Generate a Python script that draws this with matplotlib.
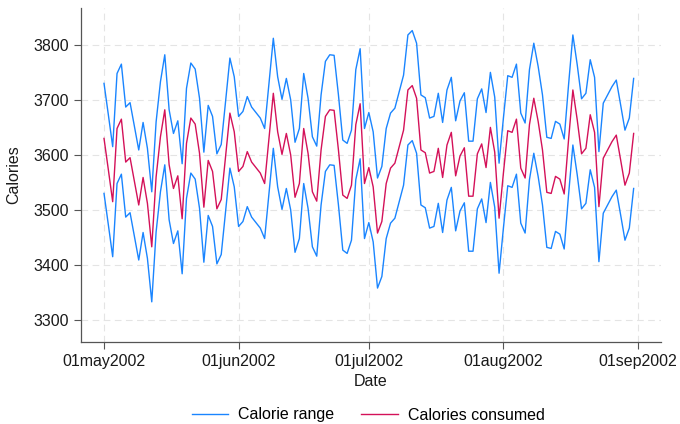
import matplotlib
matplotlib.use("Agg")
import matplotlib.pyplot as plt
import matplotlib.dates as mdates
import pandas as pd

# daily values, 01may2002 .. 31aug2002
start_date = "2002-05-01"

consumed = [
    3630, 3573, 3515, 3648, 3665, 3587, 3595, 3552, 3509, 3559,
    3512, 3433, 3560, 3633, 3682, 3582, 3539, 3562, 3484, 3621,
    3667, 3656, 3603, 3505, 3590, 3570, 3502, 3519, 3597, 3676,
    3642, 3570, 3579, 3606, 3587, 3577, 3567, 3548, 3630, 3712,
    3642, 3601, 3639, 3600, 3523, 3548, 3648, 3603, 3533, 3516,
    3609, 3670, 3682, 3681, 3609, 3527, 3521, 3545, 3655, 3693,
    3548, 3577, 3542, 3458, 3479, 3548, 3576, 3585, 3615, 3645,
    3718, 3726, 3703, 3609, 3604, 3567, 3570, 3612, 3559, 3618,
    3641, 3562, 3598, 3613, 3525, 3525, 3602, 3620, 3577, 3650,
    3605, 3485, 3567, 3644, 3641, 3665, 3576, 3558, 3655, 3703,
    3661, 3609, 3532, 3530, 3561, 3556, 3529, 3627, 3718, 3664,
    3602, 3612, 3673, 3641, 3506, 3594, 3609, 3624, 3636, 3591,
    3545, 3567, 3639,
]

range_upper = [
    3730, 3673, 3615, 3748, 3765, 3687, 3695, 3652, 3609, 3659,
    3612, 3533, 3660, 3733, 3782, 3682, 3639, 3662, 3584, 3721,
    3767, 3756, 3703, 3605, 3690, 3670, 3602, 3619, 3697, 3776,
    3742, 3670, 3679, 3706, 3687, 3677, 3667, 3648, 3730, 3812,
    3742, 3701, 3739, 3700, 3623, 3648, 3748, 3703, 3633, 3616,
    3709, 3770, 3782, 3781, 3709, 3627, 3621, 3645, 3755, 3793,
    3648, 3677, 3642, 3558, 3579, 3648, 3676, 3685, 3715, 3745,
    3818, 3826, 3803, 3709, 3704, 3667, 3670, 3712, 3659, 3718,
    3741, 3662, 3698, 3713, 3625, 3625, 3702, 3720, 3677, 3750,
    3705, 3585, 3667, 3744, 3741, 3765, 3676, 3658, 3755, 3803,
    3761, 3709, 3632, 3630, 3661, 3656, 3629, 3727, 3818, 3764,
    3702, 3712, 3773, 3741, 3606, 3694, 3709, 3724, 3736, 3691,
    3645, 3667, 3739,
]

range_lower = [
    3530, 3473, 3415, 3548, 3565, 3487, 3495, 3452, 3409, 3459,
    3412, 3333, 3460, 3533, 3582, 3482, 3439, 3462, 3384, 3521,
    3567, 3556, 3503, 3405, 3490, 3470, 3402, 3419, 3497, 3576,
    3542, 3470, 3479, 3506, 3487, 3477, 3467, 3448, 3530, 3612,
    3542, 3501, 3539, 3500, 3423, 3448, 3548, 3503, 3433, 3416,
    3509, 3570, 3582, 3581, 3509, 3427, 3421, 3445, 3555, 3593,
    3448, 3477, 3442, 3358, 3379, 3448, 3476, 3485, 3515, 3545,
    3618, 3626, 3603, 3509, 3504, 3467, 3470, 3512, 3459, 3518,
    3541, 3462, 3498, 3513, 3425, 3425, 3502, 3520, 3477, 3550,
    3505, 3385, 3467, 3544, 3541, 3565, 3476, 3458, 3555, 3603,
    3561, 3509, 3432, 3430, 3461, 3456, 3429, 3527, 3618, 3564,
    3502, 3512, 3573, 3541, 3406, 3494, 3509, 3524, 3536, 3491,
    3445, 3467, 3539,
]

tick_dates = ["2002-05-01", "2002-06-01", "2002-07-01", "2002-08-01", "2002-09-01"]
y_ticks = [3300, 3400, 3500, 3600, 3700, 3800]

blue = "#1a85ff"
red = "#d41159"
axis_grey = "#555555"
fs = 11.5

plt.rcParams["font.family"] = ["Liberation Sans", "DejaVu Sans"]

dates = pd.date_range(start_date, periods=len(consumed), freq="D")

fig = plt.figure(figsize=(6.8, 4.24), dpi=100)
ax = fig.add_axes([81 / 680, 1 - 342 / 424, 580 / 680, 334 / 424])

ax.plot(dates, range_upper, color=blue, linewidth=1.0, label="Calorie range")
ax.plot(dates, range_lower, color=blue, linewidth=1.0)
ax.plot(dates, consumed, color=red, linewidth=1.0, label="Calories consumed")

t0 = mdates.date2num(pd.Timestamp(start_date))
ax.set_xlim(t0 - 5.3, t0 + 128.3)
ax.set_ylim(3260, 3867)

ticks = [pd.Timestamp(d) for d in tick_dates]
ax.set_xticks(ticks)
ax.set_xticklabels([t.strftime("%d%b%Y").lower() for t in ticks])
ax.set_yticks(y_ticks)

ax.grid(True, color="#e4e4e4", linestyle=(0, (6, 4)), linewidth=0.8)
ax.set_axisbelow(True)

for side in ["top", "right"]:
    ax.spines[side].set_visible(False)
for side in ["left", "bottom"]:
    ax.spines[side].set_color(axis_grey)
    ax.spines[side].set_linewidth(0.9)

ax.tick_params(axis="both", direction="out", length=5, width=0.8, color=axis_grey,
               labelsize=fs, labelcolor="#1a1a1a", pad=3.5)

ax.set_xlabel("Date", fontsize=fs, color="#1a1a1a", labelpad=4)
ax.set_ylabel("Calories", fontsize=fs, color="#1a1a1a", labelpad=9)

fig.legend(loc="center", bbox_to_anchor=(368 / 680, 1 - 415 / 424), ncol=2,
           frameon=False, fontsize=fs, handlelength=2.3, handletextpad=0.6,
           columnspacing=1.7)

fig.savefig("out.png", dpi=100)
